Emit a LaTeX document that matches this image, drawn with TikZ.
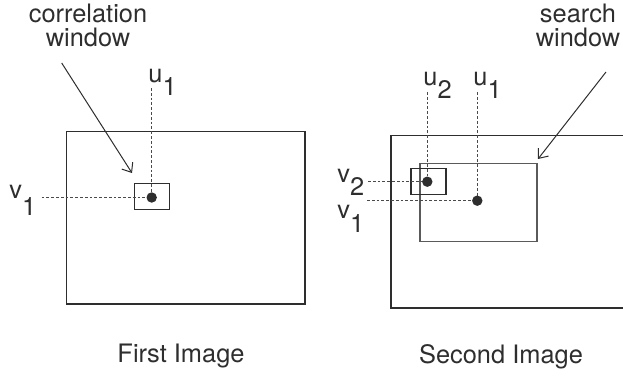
\documentclass[tikz,border=0pt]{standalone}
\usepackage{fontspec}
\setmainfont{TeX Gyre Heros}
\usepackage{xcolor}
\usetikzlibrary{arrows.meta}

\definecolor{ink}{HTML}{2E2E2E}
\definecolor{dashgray}{HTML}{4A4A4A}
\definecolor{wingray}{HTML}{5A5A5A}

\newcommand{\sublbl}[3][6.5pt]{#2\raisebox{-#1}{#3}}

\tikzset{
  frame/.style={ink, line width=0.7pt},
  guide/.style={dashgray, line width=0.65pt, dash pattern=on 1.4pt off 1pt},
  pointer/.style={->, ink, line width=0.5pt},
  idx/.style={anchor=base west, inner sep=0pt},
}

\begin{document}
\begin{tikzpicture}[x=0.5pt, y=-0.5pt, >={Straight Barb[length=4pt,width=6.5pt]},
  font=\fontsize{12.7}{12.4}\selectfont, text=ink]

\useasboundingbox (0,0) rectangle (623,376);

%-- first image: frame and correlation window
\coordinate (F1) at ( 66.7,131.7);
\coordinate (F2) at (305.0,304.0);
\coordinate (C1) at (134.7,183.3);
\coordinate (C2) at (169.3,209.3);
\coordinate (P1) at (151.7,197.5);

\draw[frame] (F1) rectangle (F2);
\draw[frame] (C1) rectangle (C2);

%-- second image: frame (runs past the right edge), search and moved window
\coordinate (S1) at (420.0,163.5);
\coordinate (S2) at (537.0,241.7);
\coordinate (M1) at (411.0,168.7);
\coordinate (M2) at (446.0,194.3);
\coordinate (Q2) at (427.3,181.7);
\coordinate (Q1) at (477.3,200.7);

\draw[frame] (623,135.5) -- (391,135.5) -- (391,308) -- (623,308);
\draw[frame, wingray] (S1) rectangle (S2);
\draw[frame] (M1) rectangle (M2);

%-- dotted guides from the labels to the points
\foreach \s/\e in {{(151.7,88)}/P1, {(41.7,197.5)}/P1,
                   {(427.3,92)}/Q2, {(368,181.7)}/Q2,
                   {(477.3,92)}/Q1, {(367,200.7)}/Q1}
  \draw[guide] \s -- (\e);

\foreach \p in {P1,Q1,Q2}
  \fill[ink] (\p) circle[radius=2.6pt];

%-- coordinate labels
\node[idx] (u1a) at (148,82)  {\sublbl{u}{1}};
\node[idx] (v1a) at (9,198)   {\sublbl[8.5pt]{v}{1}};
\node[idx] (u2b) at (423,85)  {\sublbl{u}{2}};
\node[idx] (u1b) at (473,85)  {\sublbl{u}{1}};
\node[idx] (v2b) at (337,182) {\sublbl{v}{2}};
\node[idx] (v1b) at (337,218) {\sublbl[7pt]{v}{1}};

%-- window captions with their pointers
\node[align=center, inner sep=0pt] (corrtxt) at (88,25.5)  {correlation\\window};
\node[align=center, inner sep=0pt] (srchtxt) at (578,25.5) {search\\window};

\coordinate (CWs) at ( 61.7, 63.0);
\coordinate (CWe) at (132.0,173.0);
\coordinate (SWs) at (606.0, 72.0);
\coordinate (SWe) at (538.0,159.0);

\draw[pointer] (CWs) -- (CWe);
\draw[pointer] (SWs) -- (SWe);

%-- image titles
\node[anchor=base] (first)  at (181,362) {First Image};
\node[anchor=base] (second) at (501,363) {Second Image};

\end{tikzpicture}
\end{document}
